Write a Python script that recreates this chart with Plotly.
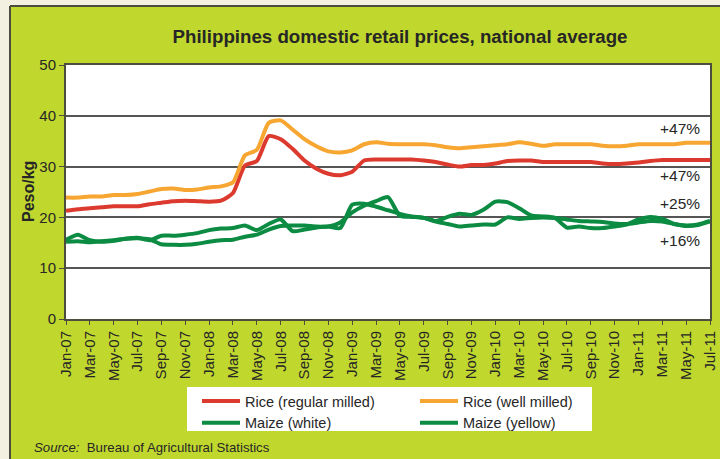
import plotly.graph_objects as go

months = ["Jan-07","Feb-07","Mar-07","Apr-07","May-07","Jun-07","Jul-07","Aug-07","Sep-07","Oct-07","Nov-07","Dec-07",
          "Jan-08","Feb-08","Mar-08","Apr-08","May-08","Jun-08","Jul-08","Aug-08","Sep-08","Oct-08","Nov-08","Dec-08",
          "Jan-09","Feb-09","Mar-09","Apr-09","May-09","Jun-09","Jul-09","Aug-09","Sep-09","Oct-09","Nov-09","Dec-09",
          "Jan-10","Feb-10","Mar-10","Apr-10","May-10","Jun-10","Jul-10","Aug-10","Sep-10","Oct-10","Nov-10","Dec-10",
          "Jan-11","Feb-11","Mar-11","Apr-11","May-11","Jun-11","Jul-11"]

rice_regular = [21.3, 21.6, 21.8, 22.0, 22.2, 22.2, 22.2, 22.6, 22.9, 23.2, 23.3, 23.2,
                23.1, 23.3, 24.8, 30.2, 31.1, 36.0, 35.4, 33.5, 31.2, 29.6, 28.6, 28.3,
                29.0, 31.2, 31.4, 31.4, 31.4, 31.4, 31.2, 30.9, 30.4, 30.0, 30.3, 30.3,
                30.6, 31.1, 31.2, 31.2, 30.9, 30.9, 30.9, 30.9, 30.9, 30.6, 30.5, 30.6,
                30.8, 31.1, 31.3, 31.3, 31.3, 31.3, 31.3]

rice_well = [23.9, 23.9, 24.1, 24.1, 24.4, 24.4, 24.6, 25.1, 25.6, 25.7, 25.4, 25.5,
             25.9, 26.1, 26.9, 32.2, 33.3, 38.6, 39.1, 37.3, 35.4, 34.0, 33.0, 32.8,
             33.2, 34.4, 34.8, 34.5, 34.4, 34.4, 34.4, 34.2, 33.8, 33.6, 33.8, 34.0,
             34.2, 34.4, 34.8, 34.5, 34.1, 34.4, 34.4, 34.4, 34.4, 34.1, 34.0, 34.1,
             34.4, 34.4, 34.4, 34.4, 34.7, 34.7, 34.7]

maize_white = [15.2, 15.3, 15.1, 15.3, 15.5, 15.8, 15.9, 15.7, 14.7, 14.6, 14.6, 14.8,
               15.2, 15.5, 15.6, 16.2, 16.6, 17.6, 18.3, 18.4, 18.4, 18.2, 18.2, 19.0,
               21.0, 22.3, 23.2, 24.0, 20.3, 20.1, 19.9, 19.2, 18.7, 18.2, 18.4, 18.6,
               18.6, 20.0, 19.7, 19.9, 20.0, 19.9, 19.6, 19.3, 19.2, 19.1, 18.8, 18.7,
               19.0, 19.3, 19.2, 18.7, 18.3, 18.5, 19.2]

maize_yellow = [15.6, 16.6, 15.5, 15.2, 15.4, 15.8, 16.0, 15.5, 16.4, 16.4, 16.6, 16.9,
                17.5, 17.8, 17.9, 18.4, 17.5, 18.7, 19.6, 17.3, 17.6, 18.0, 18.2, 17.9,
                22.5, 22.7, 22.1, 21.4, 20.7, 20.2, 19.9, 19.3, 20.1, 20.7, 20.5, 21.5,
                23.1, 23.0, 21.8, 20.4, 20.2, 19.9, 18.0, 18.2, 17.9, 17.9, 18.2, 18.6,
                19.6, 20.1, 19.7, 18.7, 18.4, 18.6, 19.3]

change_labels = ["+47%", "+47%", "+25%", "+16%"]
change_y = [37.5, 28.3, 22.7, 15.5]

RED = "#dc3a2f"
ORANGE = "#f6a631"
GREEN = "#0c8b42"
LIME = "#c0d72e"
CREAM = "#f3f0e2"
BORDER = "#4d4d3d"
TXT = "#262626"
FONT = "Liberation Sans, Arial, sans-serif"

fig = go.Figure()
series = [("Rice (regular milled)", rice_regular, RED),
          ("Rice (well milled)", rice_well, ORANGE),
          ("Maize (white)", maize_white, GREEN),
          ("Maize (yellow)", maize_yellow, GREEN)]
for name, vals, col in series:
    fig.add_trace(go.Scatter(x=months, y=vals, mode="lines", name=name,
                             line=dict(color=col, width=4, shape="spline", smoothing=0.6)))

W, H = 720, 459
ML, MR, MT, MB = 66, 10, 65, 140
PW, PH = W - ML - MR, H - MT - MB

def px(x):
    return (x - ML) / PW

def py(y):
    return (H - MB - y) / PH

shapes = [
    dict(type="rect", xref="paper", yref="paper", x0=px(-5), x1=px(10), y0=py(-5), y1=py(H + 5),
         fillcolor=CREAM, line=dict(width=0), layer="below"),
    dict(type="rect", xref="paper", yref="paper", x0=px(-5), x1=px(W + 5), y0=py(-5), y1=py(6),
         fillcolor=CREAM, line=dict(width=0), layer="below"),
    dict(type="line", xref="paper", yref="paper", x0=px(10), x1=px(10), y0=py(6), y1=py(H + 5),
         line=dict(color=BORDER, width=2), layer="below"),
    dict(type="line", xref="paper", yref="paper", x0=px(10), x1=px(W + 5), y0=py(6), y1=py(6),
         line=dict(color=BORDER, width=2), layer="below"),
    dict(type="rect", xref="paper", yref="paper", x0=px(187), x1=px(592), y0=py(387), y1=py(431),
         fillcolor="white", line=dict(width=0), layer="below"),
]

annotations = [
    dict(text="<b>Peso/kg</b>", textangle=-90, xref="paper", yref="paper", x=px(28), y=py(192),
         showarrow=False, font=dict(family=FONT, size=16, color=TXT),
         xanchor="center", yanchor="middle"),
    dict(text="<i>Source:</i>  Bureau of Agricultural Statistics", xref="paper", yref="paper",
         x=px(32), y=py(447), xanchor="left", yanchor="middle", showarrow=False,
         font=dict(family=FONT, size=13.2, color=TXT)),
]
for lab, yv in zip(change_labels, change_y):
    annotations.append(dict(text=lab, xref="paper", yref="y", x=px(680), y=yv, showarrow=False,
                            xanchor="center", yanchor="middle",
                            font=dict(family=FONT, size=15.5, color=TXT)))

fig.update_layout(
    width=W, height=H,
    margin=dict(l=ML, r=MR, t=MT, b=MB),
    paper_bgcolor=LIME, plot_bgcolor="white",
    font=dict(family=FONT, color=TXT),
    title=dict(text="<b>Philippines domestic retail prices, national average</b>",
               x=400 / W, xanchor="center", y=1 - 36 / H, yanchor="middle",
               font=dict(size=18.7, color=TXT)),
    shapes=shapes, annotations=annotations,
    showlegend=True,
    legend=dict(orientation="h", x=px(197), y=py(385), xanchor="left", yanchor="top",
                bgcolor="rgba(0,0,0,0)", borderwidth=0, font=dict(size=14.5, color=TXT),
                entrywidth=165, entrywidthmode="pixels", itemwidth=38,
                traceorder="normal"),
    xaxis=dict(type="category", categoryorder="array", categoryarray=months,
               range=[0, len(months) - 1], tickmode="array",
               tickvals=months[::2], ticktext=months[::2], tickangle=-90,
               ticks="outside", ticklen=4, tickcolor=BORDER, tickwidth=1,
               showline=True, linecolor=BORDER, linewidth=2, mirror=True,
               showgrid=False, automargin=False, tickfont=dict(size=15, color=TXT)),
    yaxis=dict(range=[0, 50], tickvals=[0, 10, 20, 30, 40, 50],
               ticks="outside", ticklen=5, tickcolor=BORDER, tickwidth=1,
               showline=True, linecolor=BORDER, linewidth=2, mirror=True,
               showgrid=True, gridcolor="#555555", gridwidth=1.5,
               zeroline=False, automargin=False, tickfont=dict(size=15, color=TXT)),
)

fig.write_html("out.html", config={"displayModeBar": False},
               post_script="document.body.style.margin='0';document.body.style.overflow='hidden';")
